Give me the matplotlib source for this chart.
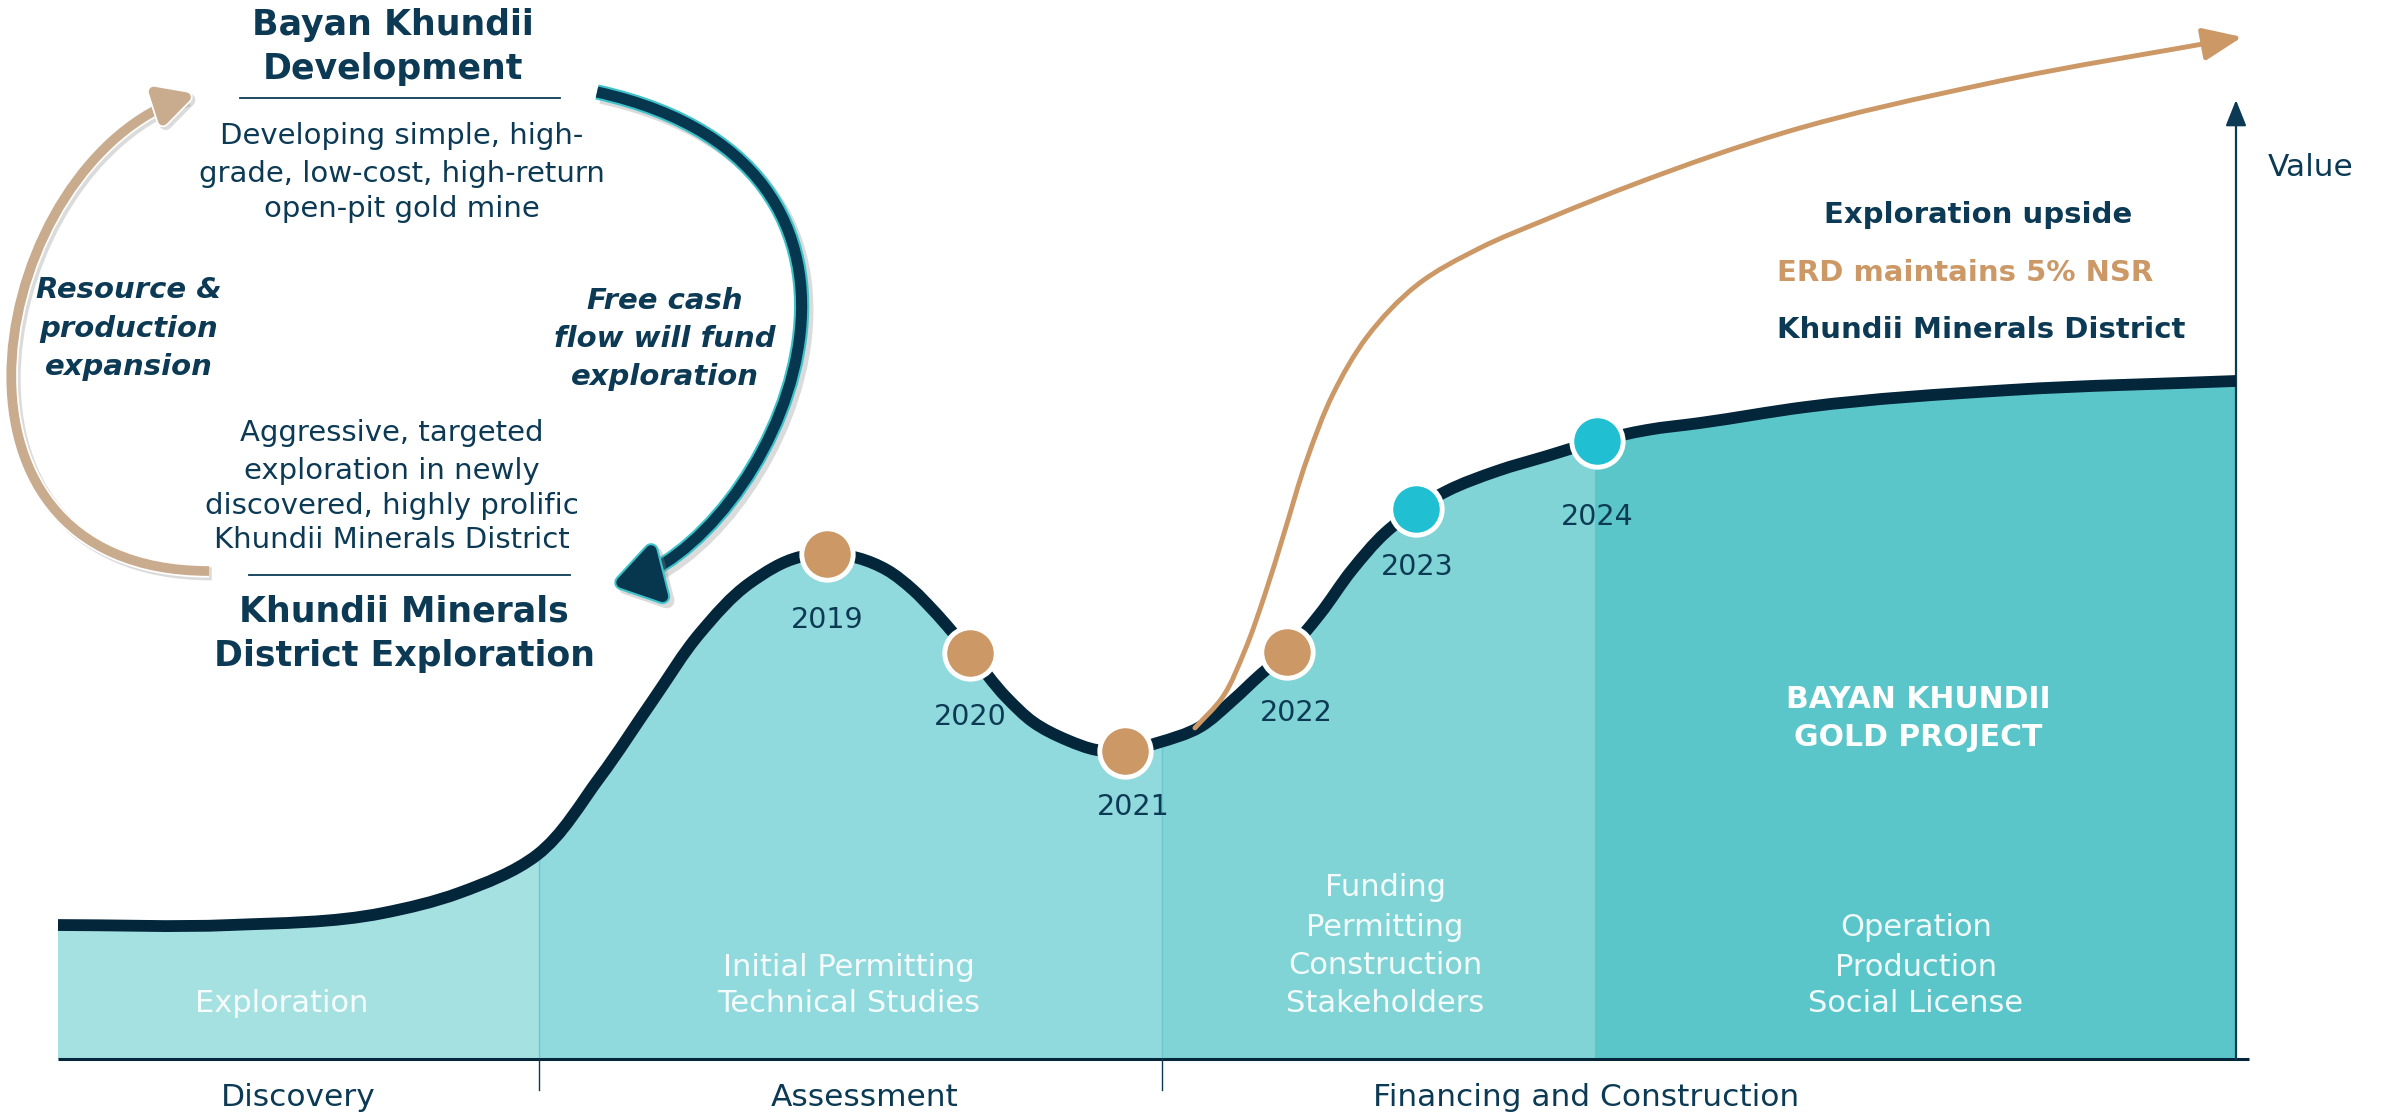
import numpy as np
import matplotlib
matplotlib.use("Agg")
import matplotlib.pyplot as plt
from matplotlib.path import Path
from matplotlib.patches import PathPatch, FancyArrowPatch, Rectangle
import matplotlib.patheffects as pe

plt.rcParams['font.family'] = ['DejaVu Sans']

# ---------------- data (value curve, chart units 0-100) ----------------
curve_x = [0.00, 7.90, 14.92, 18.41, 21.99, 24.89, 27.32, 29.48, 31.77, 34.07, 35.31,
           36.73, 38.06, 39.26, 40.17, 41.87, 43.57, 44.77, 46.33, 47.70, 48.99,
           50.46, 52.43, 53.95, 55.19, 56.43, 57.94, 59.41, 60.93, 62.35, 63.77,
           66.07, 68.37, 70.66, 72.96, 75.39, 80.26, 89.62, 100.0]
curve_y = [13.97, 13.97, 15.22, 17.31, 21.27, 29.41, 37.43, 44.42, 49.64, 52.35, 52.66,
           52.24, 50.99, 48.91, 46.82, 42.34, 37.64, 35.14, 33.26, 32.22, 32.12,
           32.95, 34.62, 37.43, 40.04, 42.44, 46.40, 50.99, 54.85, 57.35, 59.23,
           61.31, 62.88, 64.44, 65.59, 66.32, 67.99, 69.76, 70.70]

upside_x = [52.20, 53.44, 54.50, 55.42, 56.24, 57.35, 58.54, 60.10, 62.40, 65.29,
            68.37, 72.64, 79.20, 88.71, 100.28]
upside_y = [34.52, 37.64, 42.65, 48.49, 54.43, 62.57, 69.34, 75.29, 80.71, 84.57,
            87.59, 91.45, 96.56, 101.77, 106.57]

years = ['2019', '2020', '2021', '2022', '2023', '2024']
year_x = [35.31, 41.87, 48.99, 56.43, 62.35, 70.66]
year_y = [52.66, 42.34, 32.12, 42.44, 57.35, 64.44]
year_kind = ['done', 'done', 'done', 'done', 'future', 'future']

stage_edges = [0.0, 22.1, 50.7, 70.57, 100.0]
stage_texts = [['Exploration'],
               ['Initial Permitting', 'Technical Studies'],
               ['Funding', 'Permitting', 'Construction', 'Stakeholders'],
               ['Operation', 'Production', 'Social License']]
phase_names = ['Discovery', 'Assessment', 'Financing and Construction']
phase_ticks = [22.1, 50.7]

# ---------------- styles ----------------
NAVY = '#0C3A55'
CURVE = '#03263B'
ORANGE = '#CB9866'
CYAN = '#20BFD2'
TAN = '#C9AB8D'
FILLS = ['#A6E1E2', '#90D9DC', '#80D4D6', '#5BC6C9']

W, H = 2382, 1113
AX_W, AX_H = 2178, 959
fig = plt.figure(figsize=(W / 100, H / 100), dpi=100)
fig.patch.set_facecolor('white')

# main chart axes (data units)
ax = fig.add_axes([58 / W, (H - 1059) / H, AX_W / W, AX_H / H])
ax.set_xlim(0, 100)
ax.set_ylim(0, 100)
ax.axis('off')

# overlay axes in pixel units for free annotations
ov = fig.add_axes([0, 0, 1, 1], zorder=5)
ov.set_xlim(0, W)
ov.set_ylim(H, 0)
ov.axis('off')

SX, SY = AX_W / 100.0, AX_H / 100.0   # pixels per data unit (for smooth drawing)


def smooth(xs, ys):
    """Smooth Bezier path through the given points (chord-length Hermite)."""
    P = np.column_stack([np.asarray(xs, float) * SX, np.asarray(ys, float) * SY])
    n = len(P)
    d = np.diff(P, axis=0)
    h = np.hypot(d[:, 0], d[:, 1])
    s = d / h[:, None]
    m = np.empty_like(P)
    m[0], m[-1] = s[0], s[-1]
    for i in range(1, n - 1):
        m[i] = (s[i - 1] * h[i] + s[i] * h[i - 1]) / (h[i - 1] + h[i])
    verts = [P[0]]
    codes = [Path.MOVETO]
    for i in range(n - 1):
        verts += [P[i] + m[i] * h[i] / 3.0, P[i + 1] - m[i + 1] * h[i] / 3.0, P[i + 1]]
        codes += [Path.CURVE4] * 3
    verts = [tuple(v / np.array([SX, SY])) for v in verts]
    return verts, codes


cv, cc = smooth(curve_x, curve_y)

# area under curve, coloured by stage
fill_path = Path(cv + [(curve_x[-1], 0), (curve_x[0], 0), (curve_x[0], 0)],
                 cc + [Path.LINETO, Path.LINETO, Path.CLOSEPOLY])
clip = PathPatch(fill_path, fc='none', ec='none')
ax.add_patch(clip)
for i in range(len(stage_edges) - 1):
    r = Rectangle((stage_edges[i], -1), stage_edges[i + 1] - stage_edges[i], 120,
                  fc=FILLS[i], ec='none', zorder=1)
    ax.add_patch(r)
    r.set_clip_path(clip)
for xb in phase_ticks:
    ln, = ax.plot([xb, xb], [0, 100], color='#6CC8CD', lw=1.0, zorder=1.5)
    ln.set_clip_path(clip)

# baseline and ticks
ax.plot([0, 100.6], [0, 0], color=CURVE, lw=2.2, zorder=3, clip_on=False,
        solid_capstyle='butt')
for xb in phase_ticks:
    ax.plot([xb, xb], [0, -3.2], color=NAVY, lw=1.0, zorder=3, clip_on=False)

# value axis arrow
ax.annotate('', xy=(100, 100), xytext=(100, 0),
            arrowprops=dict(arrowstyle='-|>,head_length=0.8,head_width=0.32',
                            mutation_scale=20, lw=1.6, color=NAVY,
                            shrinkA=0, shrinkB=0), zorder=3, annotation_clip=False)

# value curve
ax.add_patch(PathPatch(Path(cv, cc), fill=False, lw=8.5, ec=CURVE,
                       capstyle='butt', joinstyle='round', zorder=4, clip_on=False))

# exploration upside arrow
uv, uc = smooth(upside_x, upside_y)
ax.add_patch(FancyArrowPatch(path=Path(uv, uc),
                             arrowstyle='-|>,head_length=1.2,head_width=0.5',
                             mutation_scale=20, lw=3.5, color=ORANGE,
                             zorder=4.5, clip_on=False))

# milestones
for x, y, k in zip(year_x, year_y, year_kind):
    ax.plot([x], [y], marker='o', ms=37, mfc=ORANGE if k == 'done' else CYAN,
            mec='white', mew=3.5, zorder=5, clip_on=False)

year_off_px = [(0, 66), (0, 64), (8, 56), (9, 61), (1, 58), (0, 76)]
for s, x, y, (dx, dy) in zip(years, year_x, year_y, year_off_px):
    ax.annotate(s, xy=(x, y), xytext=(dx * 0.72, -dy * 0.72), textcoords='offset points',
                ha='center', va='center', fontsize=20.5, color=NAVY, zorder=6,
                annotation_clip=False)

# ---------------- text helpers ----------------
def put(lines, x, ys, **kw):
    for s, y in zip(lines, ys):
        ov.text(x, y, s, ha='center', va='center', **kw)


# stage texts inside area
stage_pos = [(282, [1003]), (849, [967, 1004]), (1385, [888, 928, 965, 1004]),
             (1916, [927, 967, 1004])]
for lines, (x, ys) in zip(stage_texts, stage_pos):
    put(lines, x, ys, fontsize=22, color='white', alpha=0.92)

put(['BAYAN KHUNDII', 'GOLD PROJECT'], 1918, [700, 738], fontsize=21.5,
    color='white', fontweight='bold')

# phase labels
phase_pos = [298, 865, 1586]
for s, x in zip(phase_names, phase_pos):
    ov.text(x, 1097, s, ha='center', va='center', fontsize=22.5, color=NAVY)

# right-hand labels
ov.text(2311, 167, 'Value', ha='center', va='center', fontsize=22.5, color=NAVY)
ov.text(1978, 215, 'Exploration upside', ha='center', va='center', fontsize=21,
        color=NAVY, fontweight='bold')
ov.text(1965, 273, 'ERD maintains 5% NSR', ha='center', va='center', fontsize=21,
        color=ORANGE, fontweight='bold')
ov.text(1981, 330, 'Khundii Minerals District', ha='center', va='center', fontsize=21,
        color=NAVY, fontweight='bold')

# ---------------- cycle diagram ----------------
put(['Bayan Khundii', 'Development'], 393, [25, 69], fontsize=25, color=NAVY,
    fontweight='bold')
put(['Developing simple, high-', 'grade, low-cost, high-return', 'open-pit gold mine'],
    402, [136, 174, 209], fontsize=21, color=NAVY)
put(['Resource &', 'production', 'expansion'], 129, [290, 329, 367], fontsize=21,
    color=NAVY, fontweight='bold', style='italic')
put(['Free cash', 'flow will fund', 'exploration'], 665, [301, 339, 377], fontsize=21,
    color=NAVY, fontweight='bold', style='italic')
put(['Aggressive, targeted', 'exploration in newly', 'discovered, highly prolific',
     'Khundii Minerals District'], 392, [433, 471, 506, 540], fontsize=21, color=NAVY)
put(['Khundii Minerals', 'District Exploration'], 404, [612, 656], fontsize=25,
    color=NAVY, fontweight='bold')

ov.plot([240, 560], [98, 98], color=NAVY, lw=1.3)
ov.plot([249, 570], [575, 575], color=NAVY, lw=1.3)

# tan arrow (left)
tan_path = Path([(209, 571), (-90, 571), (-10, 160), (196, 94)],
                [Path.MOVETO, Path.CURVE4, Path.CURVE4, Path.CURVE4])
ov.add_patch(FancyArrowPatch(
    path=tan_path, arrowstyle='-|>,head_length=1.05,head_width=0.55',
    mutation_scale=20, lw=7, color=TAN, capstyle='butt',
    path_effects=[pe.Stroke(offset=(2, -2), linewidth=9.5, foreground='#999999', alpha=0.35),
                  pe.Stroke(linewidth=9.5, foreground='white'), pe.Normal()]))

# navy arrow (right)
navy_path = Path([(597, 92), (950, 170), (770, 545), (612, 585)],
                 [Path.MOVETO, Path.CURVE4, Path.CURVE4, Path.CURVE4])
ov.add_patch(FancyArrowPatch(
    path=navy_path, arrowstyle='-|>,head_length=1.3,head_width=0.85',
    mutation_scale=20, lw=8, color='#06374F', capstyle='butt',
    path_effects=[pe.Stroke(offset=(3, -3), linewidth=11, foreground='#888888', alpha=0.3),
                  pe.Stroke(linewidth=11, foreground='#3FC3CB'), pe.Normal()]))

fig.savefig('out.png', dpi=100, facecolor='white')
